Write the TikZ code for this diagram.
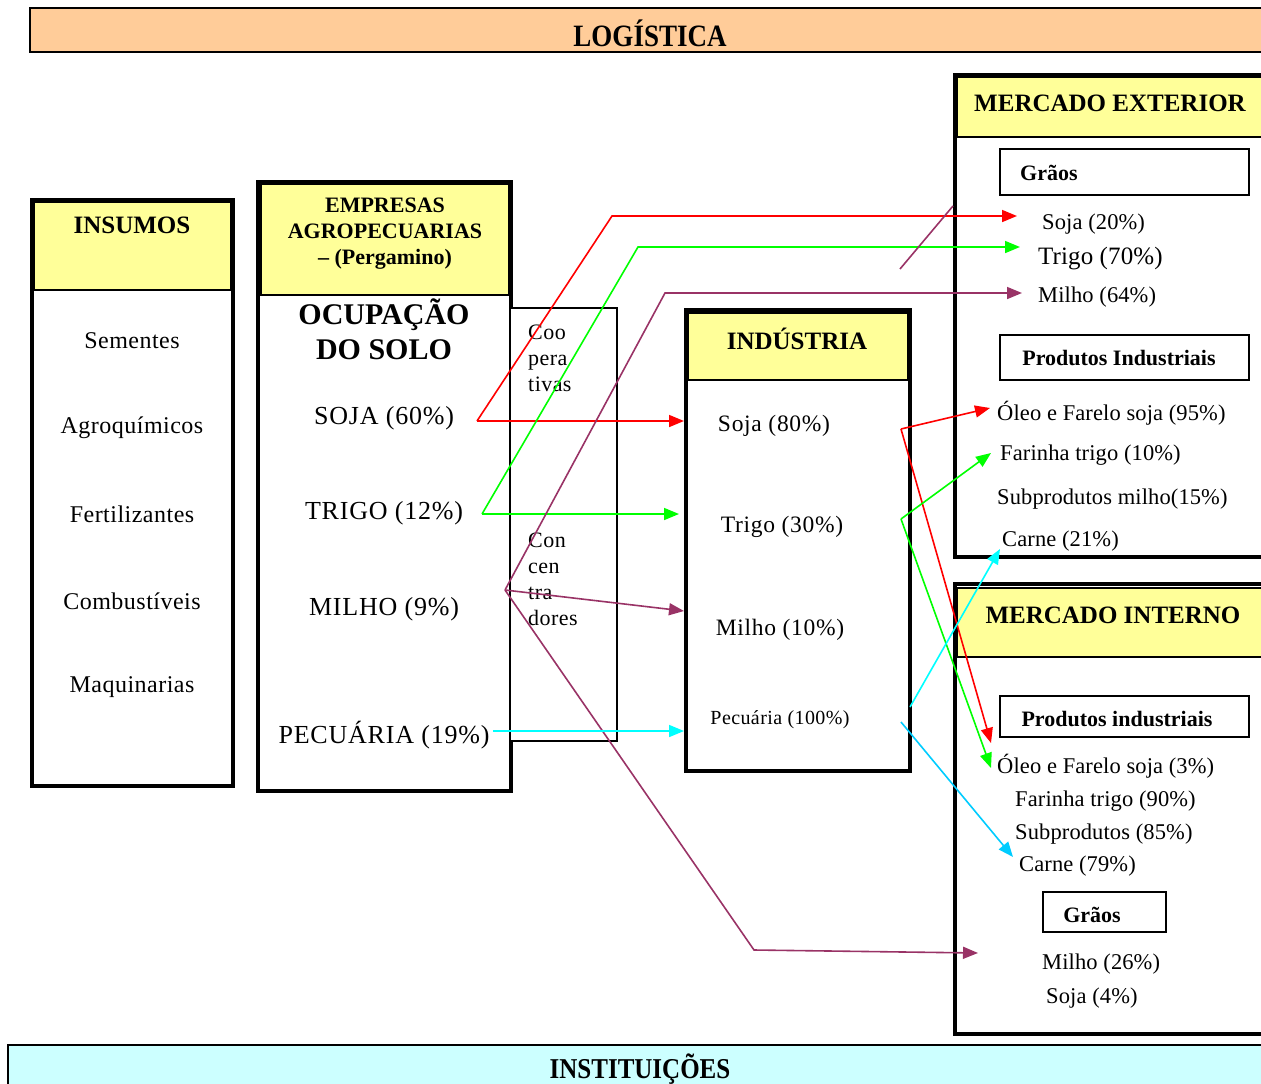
\documentclass[tikz,border=0pt]{standalone}
\usepackage{fontspec}
\setmainfont{Liberation Serif}
\usetikzlibrary{arrows.meta}
\definecolor{hdr}{HTML}{FFFF99}
\definecolor{peach}{HTML}{FFCC99}
\definecolor{paleblue}{HTML}{CCFFFF}
\definecolor{sojac}{HTML}{FF0000}
\definecolor{trigoc}{HTML}{00FF00}
\definecolor{milhoc}{HTML}{993366}
\definecolor{pecc}{HTML}{00FFFF}
\definecolor{pecb}{HTML}{00CCFF}
\newcommand\fsz[2]{\fontsize{#1bp}{#2bp}\selectfont}
\newcommand\lsp[1]{\addfontfeature{LetterSpace=#1}}
\begin{document}
\begin{tikzpicture}[x=1bp,y=-1bp,
  thickbox/.style={draw=black,line width=4.5bp,fill=white},
  hdrbox/.style={draw=black,line width=1.2bp,fill=hdr},
  subbox/.style={draw=black,line width=1.8bp},
  hdrtxt/.style={font=\fsz{25}{28}\bfseries,inner sep=0},
  subtxt/.style={font=\fsz{22}{26}\bfseries,inner sep=0},
  itemL/.style={font=\fsz{24}{28}\lsp{2},inner sep=0},
  itemE/.style={font=\fsz{26}{30}\lsp{3},inner sep=0,yshift=-2bp},
  itemI/.style={font=\fsz{23.5}{28}\lsp{3},inner sep=0,yshift=-2bp},
  itemM/.style={font=\fsz{22.5}{26}\lsp{0.5},inner sep=0,anchor=west,yshift=-2bp},
  cooptxt/.style={font=\fsz{22}{26}\lsp{2},inner sep=0,align=left,anchor=west},
  conn/.style={line width=1.6bp,-{Triangle[length=15bp,width=12bp]}},
  seg/.style={line width=1.6bp}]
\useasboundingbox (0,0) rectangle (1261,1084);
\clip (0,0) rectangle (1261,1084);

% top and bottom bars
\draw[line width=1.5bp,fill=peach] (30,8) rectangle (1275,52);
\node[font=\fsz{27}{30}\bfseries,inner sep=0] (logistica) at (650,33) {\scalebox{1}[1.15]{LOGÍSTICA}};
\draw[line width=1.5bp,fill=paleblue] (8,1045) rectangle (1275,1100);
\node[hdrtxt] (inst) at (640,1069) {\scalebox{1}[1.15]{INSTITUIÇÕES}};

% INSUMOS
\draw[thickbox] (32,200) rectangle (233,786);
\draw[hdrbox] (34,202) rectangle (231,290);
\node[hdrtxt] (insumos) at (132,225) {INSUMOS};
\node[itemL] (sementes) at (132,341) {Sementes};
\node[itemL] (agro) at (132,428) {Agroquímicos};
\node[itemL] (fert) at (132,514) {Fertilizantes};
\node[itemL] (comb) at (132,601) {Combustíveis};
\node[itemL] (maq) at (132,687) {Maquinarias};

% EMPRESAS
\draw[thickbox] (258,182) rectangle (511,791);
\draw[hdrbox] (261,184) rectangle (509,295);
\node[subtxt,align=center] (empresas) at (385,234) {EMPRESAS\\AGROPECUARIAS\\– (Pergamino)};
\node[font=\fsz{30}{35}\bfseries,inner sep=0,align=center] (ocup) at (384,329) {OCUPAÇÃO\\DO SOLO};
\node[itemE] (soja) at (384,416) {SOJA (60\%)};
\node[itemE] (trigo) at (384,511) {TRIGO (12\%)};
\node[itemE] (milho) at (384,607) {MILHO (9\%)};
\node[itemE] (pecuaria) at (384,733) {PECUÁRIA (19\%)};

% Cooperativas / Concentradores
\draw[line width=1.5bp,fill=white] (510,308) rectangle (617,741);
\node[cooptxt] (coop) at (528,358) {Coo\\pera\\tivas};
\node[cooptxt] (conc) at (528,579) {Con\\cen\\tra\\dores};

% INDUSTRIA
\draw[thickbox] (686,310) rectangle (910,771);
\draw[hdrbox] (688,313) rectangle (908,380);
\node[hdrtxt] (industria) at (797,339) {INDÚSTRIA};
\node[itemI] (isoja) at (774,424) {Soja (80\%)};
\node[itemI] (itrigo) at (782,525) {Trigo (30\%)};
\node[itemI] (imilho) at (780,628) {Milho (10\%)};
\node[font=\fsz{20}{24}\lsp{2},inner sep=0,yshift=-2bp] (ipec) at (780,718) {Pecuária (100\%)};

% MERCADO EXTERIOR
\draw[thickbox] (955,75) rectangle (1275,557);
\draw[hdrbox] (957,77) rectangle (1262,137);
\node[hdrtxt] (mext) at (1110,103) {MERCADO EXTERIOR};
\draw[subbox] (1000,149) rectangle (1249,195);
\node[subtxt,anchor=west] (egraos) at (1020,173) {Grãos};
\node[itemM] (esoja) at (1042,222) {Soja (20\%)};
\node[itemM,font=\fsz{25}{28}\lsp{0.5}] (etrigo) at (1038,257) {Trigo (70\%)};
\node[itemM] (emilho) at (1038,295) {Milho (64\%)};
\draw[subbox] (1000,335) rectangle (1249,380);
\node[subtxt] (eprod) at (1119,358) {Produtos Industriais};
\node[itemM] (eoleo) at (997,411) {Óleo e Farelo soja (95\%)};
\node[itemM] (efarinha) at (1000,453) {Farinha trigo (10\%)};
\node[itemM] (esub) at (997,497) {Subprodutos milho(15\%)};
\node[itemM] (ecarne) at (1002,539) {Carne (21\%)};

% MERCADO INTERNO
\draw[thickbox] (955,584) rectangle (1275,1034);
\draw[hdrbox] (957,588) rectangle (1262,657);
\node[hdrtxt] (mint) at (1113,615) {MERCADO INTERNO};
\draw[subbox] (1000,696) rectangle (1249,737);
\node[subtxt] (iprod) at (1117,719) {Produtos industriais};
\node[itemM] (ioleo) at (997,764) {Óleo e Farelo soja (3\%)};
\node[itemM] (ifarinha) at (1015,799) {Farinha trigo (90\%)};
\node[itemM] (isub) at (1015,832) {Subprodutos (85\%)};
\node[itemM] (icarne) at (1019,864) {Carne (79\%)};
\draw[subbox] (1043,892) rectangle (1166,932);
\node[subtxt] (igraos) at (1092,915) {Grãos};
\node[itemM] (imilho26) at (1042,962) {Milho (26\%)};
\node[itemM] (isoja4) at (1046,996) {Soja (4\%)};

% connector coordinates
\coordinate (sojaO) at (477,421);
\coordinate (sojaIn) at (684,421);
\coordinate (sojaUp) at (612,216);
\coordinate (sojaEx) at (1017,216);
\coordinate (trigoO) at (482,514);
\coordinate (trigoIn) at (679,514);
\coordinate (trigoUp) at (638,247);
\coordinate (trigoEx) at (1020,247);
\coordinate (milhoO) at (505,590);
\coordinate (milhoIn) at (684,611);
\coordinate (milhoUp) at (665,293);
\coordinate (milhoEx) at (1022,293);
\coordinate (milhoDn) at (754,950);
\coordinate (milhoInt) at (978,953);
\coordinate (strayA) at (900,269);
\coordinate (strayB) at (953,206);
\coordinate (pecO) at (493,731);
\coordinate (pecIn) at (684,731);
\coordinate (isojaO) at (901,429);
\coordinate (eoleoT) at (990,408);
\coordinate (ioleoT) at (991,743);
\coordinate (itrigoO) at (901,519);
\coordinate (efarT) at (991,453);
\coordinate (ioleoT2) at (991,768);
\coordinate (ipecO) at (910,707);
\coordinate (ecarneT) at (1000,549);
\coordinate (ipecO2) at (901,722);
\coordinate (icarneT) at (1013,857);

% connectors
\draw[conn,sojac] (sojaO) -- (sojaIn);
\draw[conn,sojac] (sojaO) -- (sojaUp) -- (sojaEx);
\draw[conn,trigoc] (trigoO) -- (trigoIn);
\draw[conn,trigoc] (trigoO) -- (trigoUp) -- (trigoEx);
\draw[conn,milhoc] (milhoO) -- (milhoIn);
\draw[conn,milhoc] (milhoO) -- (milhoUp) -- (milhoEx);
\draw[conn,milhoc] (milhoO) -- (milhoDn) -- (milhoInt);
\draw[seg,milhoc] (strayA) -- (strayB);
\draw[conn,pecc] (pecO) -- (pecIn);
\draw[conn,sojac] (isojaO) -- (eoleoT);
\draw[conn,sojac] (isojaO) -- (ioleoT);
\draw[conn,trigoc] (itrigoO) -- (efarT);
\draw[conn,trigoc] (itrigoO) -- (ioleoT2);
\draw[conn,pecc] (ipecO) -- (ecarneT);
\draw[conn,pecb] (ipecO2) -- (icarneT);
\end{tikzpicture}
\end{document}
